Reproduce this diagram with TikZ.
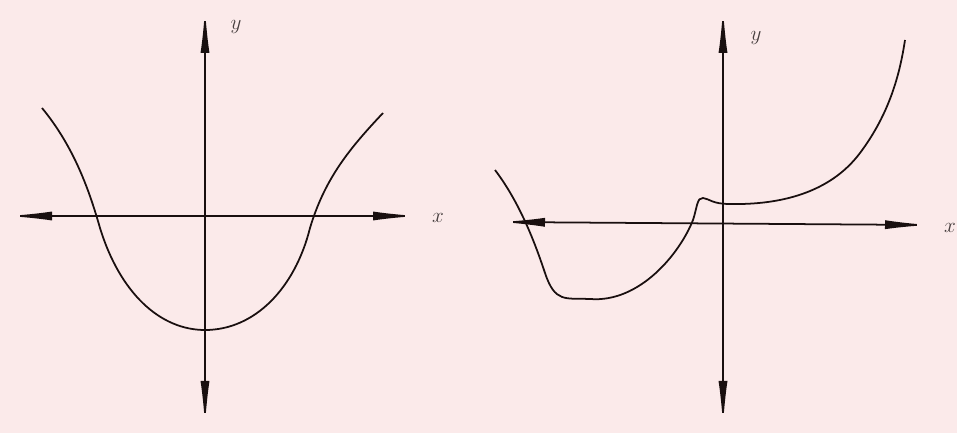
\documentclass[tikz,border=0pt]{standalone}
\usepackage{amsmath,amssymb}
\usetikzlibrary{arrows.meta}
\definecolor{paper}{RGB}{251,234,234}
\definecolor{ink}{RGB}{25,15,15}

\begin{document}
\begin{tikzpicture}[scale=2,>={Latex[length=9mm,width=1.8mm]},
  axis/.style={<->,ink,line width=1pt},
  curve/.style={ink,line width=1pt},
  lbl/.style={ink!80,font=\large}]
\fill[paper] (0,0) rectangle (9.57,4.33);
\useasboundingbox (0,0) rectangle (9.57,4.33);
% left graph
\draw[axis] (0.07,2.17)--(4.18,2.17);
\draw[axis] (2.05,0.07)--(2.05,4.25);
\node[lbl] (xl) at (4.38,2.15){$x$};
\node[lbl] (yl) at (2.36,4.06){$y$};
\draw[curve] (0.42,3.25) .. controls (0.75,2.85) and (0.90,2.40) .. (1.00,2.05)
  .. controls (1.20,1.40) and (1.60,1.03) .. (2.05,1.03)
  .. controls (2.55,1.03) and (2.95,1.45) .. (3.10,2.05)
  .. controls (3.25,2.55) and (3.50,2.85) .. (3.83,3.20);
% right graph
\draw[axis] (5.00,2.11)--(9.30,2.08);
\draw[axis] (7.23,0.07)--(7.23,4.25);
\node[lbl] (xr) at (9.50,2.05){$x$};
\node[lbl] (yr) at (7.56,3.95){$y$};
\draw[curve] (4.95,2.63) .. controls (5.20,2.30) and (5.35,1.90) .. (5.45,1.60)
  .. controls (5.55,1.30) and (5.65,1.35) .. (5.90,1.34)
  .. controls (6.40,1.30) and (6.80,1.80) .. (6.93,2.13)
  .. controls (6.97,2.25) and (6.97,2.36) .. (7.03,2.35)
  .. controls (7.10,2.34) and (7.12,2.29) .. (7.30,2.29)
  .. controls (7.80,2.28) and (8.30,2.40) .. (8.60,2.80)
  .. controls (8.90,3.20) and (9.00,3.60) .. (9.05,3.93);
\end{tikzpicture}
\end{document}
